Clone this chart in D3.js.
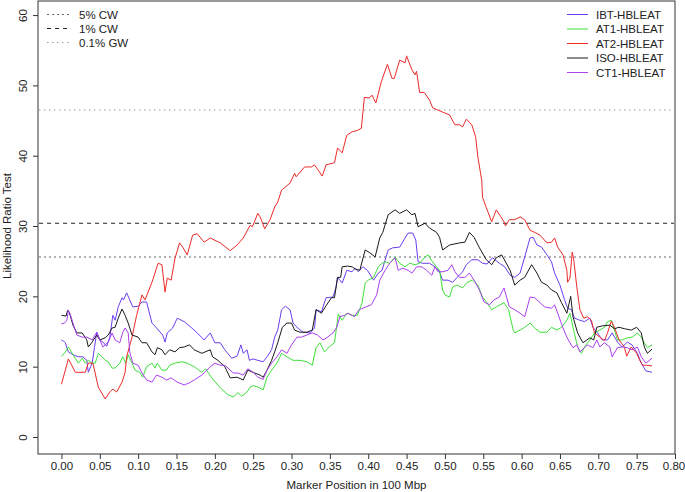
<!DOCTYPE html>
<html>
<head>
<meta charset="utf-8">
<script src="https://cdn.jsdelivr.net/npm/d3@7"></script>
<style>
  body { margin: 0; background: #fff; }
  svg text { font-family: "Liberation Sans", Arial, sans-serif; fill: #222; }
</style>
</head>
<body>
<svg id="chart" width="685" height="492"></svg>
<script>
// values: [marker position, LRT]
const ibt = [[0.000,13.8],[0.003,13.6],[0.005,13.4],[0.009,12.1],[0.015,11.7],[0.022,11.4],[0.028,11.4],[0.033,10.9],[0.035,9.2],[0.040,10.5],[0.043,12.7],[0.046,14.9],[0.050,13.8],[0.054,13.5],[0.059,12.9],[0.063,14.2],[0.067,17.3],[0.070,16.6],[0.074,18.5],[0.079,19.8],[0.081,19.5],[0.085,20.5],[0.089,19.5],[0.093,18.5],[0.100,18.6],[0.105,19.2],[0.111,19.2],[0.118,16.2],[0.124,15.5],[0.132,14.5],[0.135,13.5],[0.138,14.8],[0.145,15.5],[0.151,16.9],[0.160,16.4],[0.170,15.5],[0.177,14.8],[0.186,13.8],[0.194,14.8],[0.200,13.4],[0.207,13.4],[0.213,12.4],[0.222,11.2],[0.229,11.5],[0.234,13.1],[0.237,11.9],[0.242,12.4],[0.245,10.9],[0.250,11.1],[0.256,10.9],[0.263,10.7],[0.268,11.4],[0.274,12.4],[0.278,14.2],[0.282,15.2],[0.287,18.1],[0.292,18.6],[0.298,18.1],[0.302,16.2],[0.308,15.5],[0.315,14.9],[0.324,14.8],[0.330,15.5],[0.332,18.1],[0.339,17.8],[0.345,19.8],[0.354,19.9],[0.358,21.3],[0.360,22.7],[0.366,21.9],[0.372,23.7],[0.379,23.5],[0.383,24.0],[0.387,23.5],[0.393,24.2],[0.399,23.7],[0.407,22.3],[0.413,23.3],[0.418,23.7],[0.426,26.6],[0.432,26.9],[0.441,27.0],[0.448,28.3],[0.452,29.0],[0.458,29.0],[0.462,28.0],[0.465,24.9],[0.471,24.7],[0.480,24.7],[0.487,24.2],[0.493,23.5],[0.497,22.3],[0.504,22.3],[0.510,22.0],[0.516,22.7],[0.523,23.5],[0.528,24.5],[0.535,25.2],[0.543,25.2],[0.549,24.7],[0.555,24.6],[0.562,25.5],[0.571,24.7],[0.578,24.2],[0.585,23.0],[0.591,22.7],[0.598,23.3],[0.604,25.6],[0.611,28.3],[0.615,28.4],[0.620,27.3],[0.626,27.0],[0.633,25.9],[0.639,24.9],[0.643,23.3],[0.650,21.6],[0.656,19.5],[0.660,18.3],[0.665,18.1],[0.669,16.9],[0.676,16.6],[0.682,16.4],[0.689,16.9],[0.693,15.6],[0.699,14.8],[0.705,13.8],[0.712,13.8],[0.718,14.8],[0.725,13.5],[0.731,12.8],[0.738,13.5],[0.744,13.1],[0.751,11.9],[0.756,10.5],[0.762,9.4],[0.770,9.2]];

const at1 = [[0.000,11.5],[0.004,11.9],[0.009,12.8],[0.014,11.9],[0.018,11.2],[0.022,10.5],[0.027,11.2],[0.031,10.5],[0.035,10.9],[0.040,10.5],[0.044,10.5],[0.048,11.9],[0.053,11.4],[0.057,10.9],[0.061,10.7],[0.066,9.8],[0.070,9.8],[0.076,10.5],[0.080,11.4],[0.084,10.5],[0.087,11.7],[0.092,10.5],[0.096,9.5],[0.102,9.2],[0.106,8.5],[0.111,10.0],[0.118,10.5],[0.122,9.8],[0.125,10.5],[0.131,9.5],[0.137,9.5],[0.141,10.2],[0.148,10.5],[0.157,10.7],[0.164,10.5],[0.173,10.0],[0.183,9.2],[0.188,9.7],[0.196,8.4],[0.207,7.0],[0.217,6.0],[0.224,5.7],[0.230,6.3],[0.235,5.8],[0.242,6.4],[0.246,7.1],[0.250,7.3],[0.256,7.1],[0.263,6.7],[0.268,8.5],[0.274,9.5],[0.281,10.5],[0.287,11.9],[0.294,11.4],[0.302,10.9],[0.311,10.9],[0.320,10.7],[0.327,10.2],[0.332,12.7],[0.337,13.4],[0.343,12.1],[0.349,12.8],[0.356,13.4],[0.361,17.5],[0.366,16.6],[0.372,17.6],[0.379,17.3],[0.386,17.3],[0.392,19.1],[0.396,21.9],[0.400,22.3],[0.407,22.7],[0.413,24.2],[0.418,24.7],[0.422,24.9],[0.428,24.7],[0.435,25.6],[0.441,24.7],[0.448,24.2],[0.454,24.7],[0.461,24.5],[0.467,24.7],[0.474,25.6],[0.478,25.9],[0.484,24.9],[0.489,24.2],[0.493,23.7],[0.497,20.9],[0.500,20.2],[0.506,19.9],[0.510,21.3],[0.516,21.6],[0.523,21.2],[0.529,22.0],[0.536,22.3],[0.543,21.6],[0.549,19.9],[0.555,19.1],[0.561,18.1],[0.567,18.5],[0.577,19.1],[0.583,18.1],[0.589,15.2],[0.591,14.8],[0.598,15.2],[0.604,15.6],[0.611,16.2],[0.617,15.5],[0.624,14.9],[0.633,14.9],[0.639,15.6],[0.646,15.2],[0.652,15.6],[0.659,16.6],[0.663,17.6],[0.667,15.6],[0.673,12.8],[0.678,11.9],[0.682,12.8],[0.689,13.8],[0.695,14.8],[0.702,15.2],[0.708,15.6],[0.712,16.4],[0.717,16.6],[0.721,15.2],[0.725,13.8],[0.731,13.8],[0.738,14.1],[0.744,14.2],[0.751,14.8],[0.756,14.2],[0.760,13.4],[0.764,12.7],[0.770,13.1]];

const at2 = [[0.000,7.5],[0.009,11.1],[0.012,10.5],[0.018,9.2],[0.031,9.2],[0.035,10.5],[0.041,10.5],[0.048,7.1],[0.057,5.4],[0.063,6.4],[0.067,6.8],[0.072,6.4],[0.079,7.8],[0.083,9.2],[0.085,11.4],[0.092,14.2],[0.098,17.3],[0.105,20.2],[0.109,19.5],[0.118,22.0],[0.126,24.7],[0.131,24.5],[0.135,20.6],[0.138,22.6],[0.143,22.3],[0.148,25.4],[0.154,27.6],[0.158,27.0],[0.164,25.9],[0.171,28.7],[0.177,28.9],[0.186,27.7],[0.194,28.3],[0.207,27.6],[0.220,26.5],[0.229,27.3],[0.237,28.3],[0.246,30.1],[0.249,29.9],[0.256,31.8],[0.259,31.3],[0.265,29.6],[0.272,30.9],[0.278,32.7],[0.282,33.4],[0.287,35.1],[0.298,36.1],[0.304,37.5],[0.306,37.0],[0.317,38.4],[0.326,38.4],[0.330,38.7],[0.340,37.1],[0.345,38.7],[0.356,39.0],[0.360,41.1],[0.366,40.4],[0.372,42.9],[0.379,43.4],[0.386,43.6],[0.391,43.9],[0.395,48.3],[0.401,48.2],[0.405,48.6],[0.410,47.5],[0.417,50.5],[0.425,53.0],[0.431,51.0],[0.434,51.0],[0.441,53.6],[0.448,53.2],[0.450,54.2],[0.457,52.2],[0.461,51.5],[0.463,52.0],[0.467,49.0],[0.473,49.0],[0.480,47.9],[0.484,46.8],[0.497,46.2],[0.506,45.8],[0.513,44.4],[0.519,44.4],[0.523,44.1],[0.528,45.2],[0.535,44.4],[0.540,42.7],[0.543,39.8],[0.548,36.5],[0.549,34.1],[0.554,32.6],[0.561,30.6],[0.567,32.3],[0.573,31.3],[0.577,30.6],[0.579,30.0],[0.584,30.9],[0.591,30.9],[0.598,31.3],[0.604,30.9],[0.611,29.4],[0.617,29.1],[0.624,28.7],[0.633,27.6],[0.639,27.7],[0.643,28.3],[0.647,27.0],[0.654,25.9],[0.659,23.7],[0.660,22.0],[0.663,22.6],[0.666,26.3],[0.668,25.2],[0.672,21.3],[0.676,18.1],[0.681,16.9],[0.686,17.1],[0.691,16.6],[0.695,14.8],[0.702,14.2],[0.708,13.7],[0.712,14.8],[0.717,16.5],[0.721,15.6],[0.727,13.8],[0.734,12.8],[0.737,11.5],[0.743,12.8],[0.750,11.9],[0.754,10.9],[0.758,10.2],[0.763,10.2],[0.770,10.1]];

const iso = [[0.000,17.3],[0.006,17.2],[0.008,18.0],[0.010,17.8],[0.015,15.9],[0.020,14.8],[0.027,14.8],[0.033,13.8],[0.035,12.8],[0.040,13.5],[0.046,14.5],[0.050,13.8],[0.057,14.1],[0.061,14.5],[0.066,15.5],[0.070,15.6],[0.074,16.9],[0.079,18.2],[0.083,17.3],[0.087,16.2],[0.092,14.5],[0.100,14.2],[0.105,13.4],[0.111,13.4],[0.118,12.1],[0.122,11.7],[0.125,12.7],[0.131,12.4],[0.135,11.7],[0.141,12.4],[0.148,12.1],[0.154,12.7],[0.160,12.8],[0.167,13.1],[0.173,12.4],[0.183,11.9],[0.194,12.4],[0.197,11.4],[0.204,10.9],[0.213,10.0],[0.220,8.4],[0.229,8.5],[0.237,8.1],[0.243,9.5],[0.252,9.1],[0.259,8.8],[0.263,8.5],[0.268,9.5],[0.274,10.9],[0.278,12.1],[0.282,13.4],[0.288,15.6],[0.294,16.2],[0.300,16.2],[0.304,15.2],[0.311,14.9],[0.320,14.9],[0.327,15.2],[0.332,18.1],[0.339,17.6],[0.344,18.5],[0.352,19.8],[0.356,19.8],[0.360,22.7],[0.364,22.7],[0.366,24.2],[0.373,24.3],[0.379,24.2],[0.383,23.9],[0.389,23.7],[0.396,26.6],[0.402,26.2],[0.409,25.6],[0.415,28.3],[0.419,29.1],[0.426,31.6],[0.435,32.3],[0.441,31.8],[0.450,32.3],[0.457,31.6],[0.461,31.8],[0.465,29.9],[0.474,30.4],[0.480,29.7],[0.489,29.1],[0.493,28.4],[0.497,26.6],[0.506,27.3],[0.519,27.6],[0.526,27.7],[0.532,29.1],[0.538,28.4],[0.545,26.9],[0.554,25.2],[0.561,24.5],[0.567,25.5],[0.574,25.9],[0.585,23.7],[0.591,21.6],[0.598,22.3],[0.604,22.7],[0.613,24.5],[0.620,23.3],[0.626,22.0],[0.633,21.6],[0.639,20.9],[0.646,20.5],[0.652,19.1],[0.659,17.6],[0.664,20.0],[0.667,17.1],[0.673,14.8],[0.680,13.4],[0.689,14.1],[0.694,13.8],[0.698,15.6],[0.705,15.8],[0.715,15.9],[0.721,15.4],[0.727,15.6],[0.734,15.4],[0.743,15.2],[0.750,15.6],[0.756,14.8],[0.760,12.8],[0.764,11.9],[0.770,12.5]];

const ct1 = [[0.000,16.1],[0.004,16.2],[0.007,16.6],[0.009,18.0],[0.011,17.6],[0.015,16.2],[0.020,14.5],[0.027,14.2],[0.033,14.2],[0.040,13.8],[0.046,14.9],[0.050,13.8],[0.054,12.8],[0.061,13.5],[0.066,14.8],[0.070,13.8],[0.076,13.4],[0.080,14.9],[0.083,15.5],[0.087,14.8],[0.089,12.1],[0.093,10.5],[0.100,10.2],[0.105,9.1],[0.111,8.1],[0.118,7.8],[0.124,8.8],[0.131,8.5],[0.137,8.1],[0.143,8.4],[0.151,7.8],[0.160,7.4],[0.167,7.7],[0.173,8.1],[0.183,8.8],[0.187,9.2],[0.194,10.0],[0.200,10.5],[0.207,10.2],[0.213,10.2],[0.217,9.8],[0.224,9.1],[0.230,9.1],[0.237,8.8],[0.243,9.7],[0.250,9.2],[0.256,8.5],[0.263,8.2],[0.268,9.5],[0.274,10.5],[0.281,11.4],[0.287,12.4],[0.294,11.9],[0.300,13.1],[0.307,14.2],[0.313,14.2],[0.320,14.5],[0.327,14.8],[0.334,14.5],[0.341,13.8],[0.347,14.2],[0.354,14.8],[0.359,15.6],[0.363,17.1],[0.369,17.3],[0.374,17.6],[0.382,17.1],[0.388,18.1],[0.397,18.5],[0.404,18.8],[0.411,20.2],[0.415,22.3],[0.422,23.7],[0.428,24.7],[0.435,25.5],[0.439,23.7],[0.445,24.0],[0.452,23.7],[0.457,23.3],[0.463,24.2],[0.470,24.2],[0.476,23.7],[0.483,23.0],[0.487,24.2],[0.491,23.5],[0.497,23.5],[0.504,23.7],[0.509,24.5],[0.513,23.5],[0.519,22.7],[0.526,22.7],[0.532,23.3],[0.538,22.3],[0.545,20.9],[0.551,19.2],[0.558,18.8],[0.564,19.5],[0.571,19.9],[0.577,21.2],[0.584,18.5],[0.591,18.1],[0.598,17.6],[0.604,17.1],[0.611,19.9],[0.617,19.8],[0.624,19.1],[0.630,18.5],[0.639,18.3],[0.643,18.8],[0.647,17.6],[0.654,15.5],[0.659,14.2],[0.663,13.4],[0.667,12.7],[0.672,13.1],[0.676,12.1],[0.682,12.7],[0.686,13.1],[0.693,12.7],[0.698,13.8],[0.702,12.8],[0.708,13.4],[0.715,12.8],[0.718,11.4],[0.725,12.7],[0.731,12.8],[0.738,12.7],[0.744,12.4],[0.751,12.8],[0.756,11.4],[0.762,10.5],[0.770,11.2]];

const seriesNames = ['IBT-HBLEAT', 'AT1-HBLEAT', 'AT2-HBLEAT', 'ISO-HBLEAT', 'CT1-HBLEAT'];
const seriesColors = ['#6a3ef0', '#3ee03a', '#ee2a2a', '#1a1a1a', '#ab3ff0'];
const thresholdNames = ['5% CW', '1% CW', '0.1% GW'];
const thresholdValues = [25.6, 30.4, 46.5];
const thresholdDash = ['2,3', '4,4', '1.5,3.5'];
const thresholdColors = ['#666', '#222', '#9a9a9a'];
const xTicks = [0, 0.05, 0.1, 0.15, 0.2, 0.25, 0.3, 0.35, 0.4, 0.45, 0.5, 0.55, 0.6, 0.65, 0.7, 0.75, 0.8];
const yTicks = [0, 10, 20, 30, 40, 50, 60];

const svg = d3.select('#chart');
const box = { left: 38, right: 675, top: 1, bottom: 454 };

const x = d3.scaleLinear().domain([-0.0306, 0.8]).range([box.left, box.right]);
const y = d3.scaleLinear().domain([-2.42, 62]).range([box.bottom, box.top]);

// axes
const xAxis = svg.append('g')
  .attr('transform', `translate(0,${box.bottom})`)
  .call(d3.axisBottom(x).tickValues(xTicks).tickFormat(d3.format('.2f')).tickSize(5).tickPadding(3));
xAxis.select('.domain').remove();
xAxis.selectAll('line').attr('stroke', '#333');
xAxis.selectAll('text').style('font-size', '11.5px').attr('fill', '#222');
// last label sits against the page edge, as in the reference
xAxis.selectAll('text').filter((d) => d === 0.8).attr('dx', '-1.5');

const yAxis = svg.append('g')
  .attr('transform', `translate(${box.left},0)`)
  .call(d3.axisLeft(y).tickValues(yTicks).tickSize(5).tickFormat(d3.format('d')));
yAxis.select('.domain').remove();
yAxis.selectAll('line').attr('stroke', '#333');
yAxis.selectAll('text')
  .style('font-size', '11.5px')
  .attr('fill', '#222')
  .attr('text-anchor', 'middle')
  .attr('x', 0).attr('dy', 0)
  .attr('transform', 'translate(-11,0) rotate(-90)');

svg.append('rect')
  .attr('x', box.left).attr('y', box.top)
  .attr('width', box.right - box.left).attr('height', box.bottom - box.top)
  .attr('fill', 'none').attr('stroke', '#333').attr('stroke-width', 1);

svg.append('text')
  .attr('x', (box.left + box.right) / 2).attr('y', 489)
  .attr('text-anchor', 'middle').style('font-size', '11.5px')
  .text('Marker Position in 100 Mbp');

svg.append('text')
  .attr('transform', `translate(11,${y(30)}) rotate(-90)`)
  .attr('text-anchor', 'middle').style('font-size', '11.5px')
  .text('Likelihood Ratio Test');

// significance thresholds
svg.append('g').selectAll('line')
  .data(thresholdValues)
  .enter().append('line')
    .attr('x1', box.left + 1).attr('x2', box.right - 1)
    .attr('y1', (d) => y(d)).attr('y2', (d) => y(d))
    .attr('stroke', (d, i) => thresholdColors[i])
    .attr('stroke-width', 1.1)
    .attr('stroke-dasharray', (d, i) => thresholdDash[i]);

// series
const line = d3.line().x((d) => x(d[0])).y((d) => y(d[1]));
const allSeries = [ibt, at1, at2, iso, ct1];

svg.append('g').selectAll('path')
  .data(allSeries)
  .enter().append('path')
    .attr('d', line)
    .attr('fill', 'none')
    .attr('stroke', (d, i) => seriesColors[i])
    .attr('stroke-width', 1)
    .attr('stroke-linejoin', 'round');

// legend, thresholds
const legL = svg.append('g');
thresholdNames.forEach((name, i) => {
  const ly = 14.5 + i * 14;
  legL.append('line')
    .attr('x1', 47).attr('x2', 69).attr('y1', ly).attr('y2', ly)
    .attr('stroke', thresholdColors[i]).attr('stroke-width', 1.1)
    .attr('stroke-dasharray', thresholdDash[i]);
  legL.append('text')
    .attr('x', 79).attr('y', ly + 4)
    .style('font-size', '11.5px')
    .text(name);
});

// legend, series
const legR = svg.append('g');
seriesNames.forEach((name, i) => {
  const ly = 14.5 + i * 14.5;
  legR.append('line')
    .attr('x1', 567).attr('x2', 588).attr('y1', ly).attr('y2', ly)
    .attr('stroke', seriesColors[i]).attr('stroke-width', 1);
  legR.append('text')
    .attr('x', 596).attr('y', ly + 4)
    .style('font-size', '11.5px')
    .text(name);
});
</script>
</body>
</html>
